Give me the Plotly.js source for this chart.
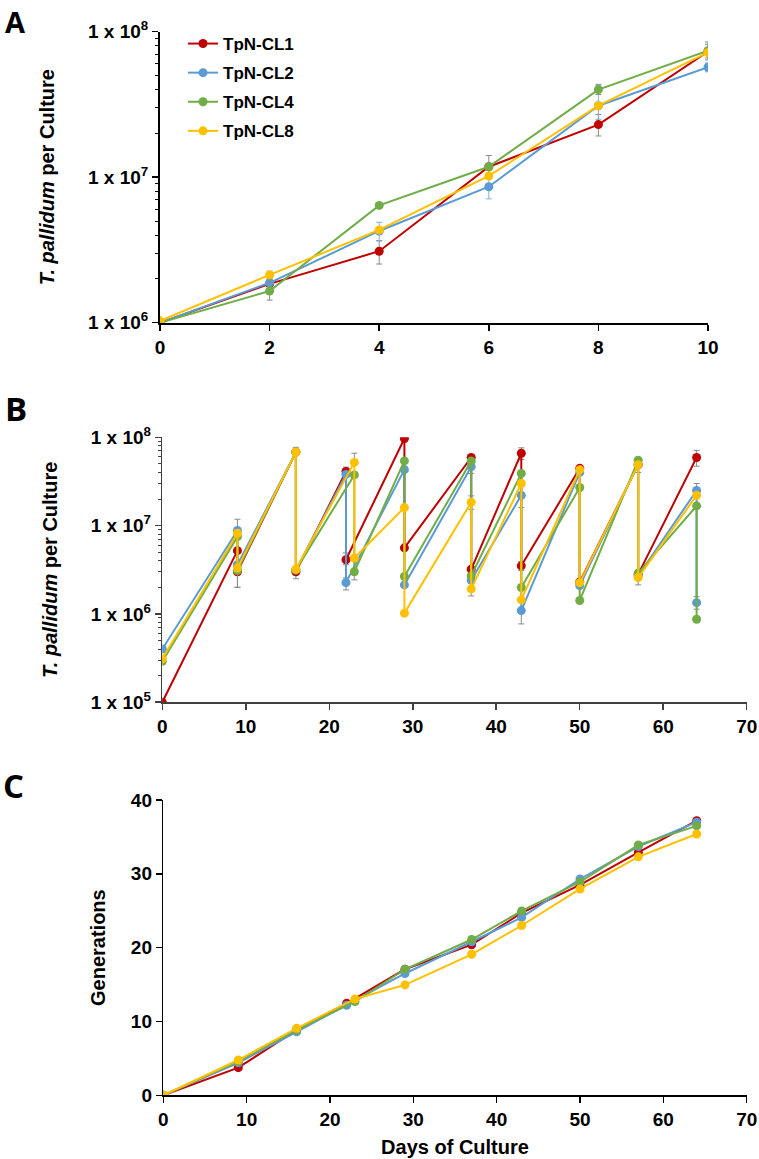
<!DOCTYPE html>
<html>
<head>
<meta charset="utf-8">
<script src="https://cdn.plot.ly/plotly-3.0.1.min.js"></script>
<style>html,body{margin:0;padding:0;background:#fff;}#chart{width:759px;height:1159px;}</style>
</head>
<body>
<div id="chart"></div>
<script>
// ---------- Data ----------
const seriesNames = ['TpN-CL1', 'TpN-CL2', 'TpN-CL4', 'TpN-CL8'];
const seriesColors = ['#C00000', '#5B9BD5', '#70AD47', '#FFC000'];

// Panel A
const daysA = [0, 2, 4, 6, 8, 10];
const cl1A = [1.0e6, 1.85e6, 3.1e6, 1.18e7, 2.3e7, 7.3e7];
const cl2A = [1.0e6, 1.88e6, 4.27e6, 8.6e6, 3.1e7, 5.7e7];
const cl4A = [1.0e6, 1.65e6, 6.4e6, 1.18e7, 4.0e7, 7.4e7];
const cl8A = [1.03e6, 2.13e6, 4.34e6, 1.02e7, 3.1e7, 7.2e7];
const cl1A_errPlus  = [NaN, NaN, 0.57e6, 0.23e7, 0.4e7, 0.9e7];
const cl1A_errMinus = [NaN, NaN, 0.57e6, 0.2e7, 0.38e7, 0.9e7];
const cl2A_errPlus  = [NaN, 0.15e6, 0.63e6, 1.5e6, 1.25e7, 0.4e7];
const cl2A_errMinus = [NaN, 0.15e6, 0.63e6, 1.5e6, 0.6e7, 0.4e7];
const cl4A_errPlus  = [NaN, 0.32e6, NaN, NaN, 0.3e7, 1.1e7];
const cl4A_errMinus = [NaN, 0.22e6, NaN, NaN, 0.3e7, 0.8e7];
const cl8A_errPlus  = [NaN, 0.13e6, NaN, NaN, NaN, NaN];
const cl8A_errMinus = [NaN, 0.13e6, NaN, NaN, NaN, NaN];

// Panel B (each passage day appears twice: harvest count, then seeded count)
const cl1B_days = [0, 9, 9, 16, 16, 22, 22, 29, 29, 37, 37, 43, 43, 50, 50, 57, 57, 64];
const cl1B = [1.0e5, 5.2e6, 3.0e6, 6.8e7, 3.0e6, 4.1e7, 4.1e6, 9.7e7, 5.6e6, 5.9e7, 3.2e6, 6.6e7, 3.5e6, 4.45e7, 2.3e6, 4.9e7, 2.8e6, 5.9e7];
const cl1B_errPlus  = [NaN, NaN, 0.4e6, NaN, NaN, 0.5e7, 0.8e6, NaN, NaN, NaN, NaN, 1.0e7, 0.4e6, NaN, NaN, NaN, NaN, 1.2e7];
const cl1B_errMinus = [NaN, NaN, 1.0e6, NaN, 0.5e6, NaN, 0.5e6, NaN, NaN, NaN, NaN, 1.0e7, 0.4e6, NaN, NaN, NaN, NaN, 1.2e7];

const cl2B_days = [0, 9, 9, 16, 16, 22, 22, 29, 29, 37, 37, 43, 43, 50, 50, 57, 57, 64, 64];
const cl2B = [4.0e5, 8.8e6, 3.6e6, 6.8e7, 3.15e6, 3.8e7, 2.26e6, 4.3e7, 2.13e6, 4.65e7, 2.4e6, 2.2e7, 1.09e6, 4.0e7, 2.1e6, 4.9e7, 2.7e6, 2.5e7, 1.34e6];
const cl2B_errPlus  = [NaN, 3.0e6, NaN, NaN, NaN, NaN, 0.3e6, NaN, NaN, NaN, NaN, NaN, NaN, NaN, NaN, NaN, NaN, 0.5e7, 0.23e6];
const cl2B_errMinus = [NaN, 1.0e6, NaN, NaN, NaN, NaN, 0.39e6, NaN, NaN, NaN, NaN, NaN, 0.32e6, NaN, NaN, NaN, NaN, 0.3e7, 0.21e6];

const cl4B_days = [0, 9, 9, 16, 16, 23, 23, 29, 29, 37, 37, 43, 43, 50, 50, 57, 57, 64, 64];
const cl4B = [2.9e5, 7.5e6, 3.1e6, 6.8e7, 3.15e6, 3.75e7, 3.0e6, 5.4e7, 2.65e6, 5.4e7, 2.7e6, 3.9e7, 1.99e6, 2.7e7, 1.42e6, 5.5e7, 2.9e6, 1.67e7, 8.7e5];
const cl4B_errPlus  = [NaN, NaN, NaN, NaN, NaN, NaN, NaN, NaN, NaN, NaN, NaN, NaN, NaN, NaN, NaN, NaN, NaN, NaN, NaN];
const cl4B_errMinus = [NaN, NaN, 1.1e6, NaN, NaN, NaN, 0.57e6, NaN, NaN, 1.5e7, NaN, NaN, NaN, NaN, NaN, NaN, NaN, NaN, NaN];

const cl8B_days = [0, 9, 9, 16, 16, 23, 23, 29, 29, 37, 37, 43, 43, 50, 50, 57, 57, 64];
const cl8B = [3.1e5, 8.2e6, 3.3e6, 6.8e7, 3.2e6, 5.2e7, 4.3e6, 1.6e7, 1.02e6, 1.84e7, 1.92e6, 3.0e7, 1.44e6, 4.3e7, 2.26e6, 4.9e7, 2.58e6, 2.2e7];
const cl8B_errPlus  = [NaN, NaN, NaN, 0.9e7, NaN, 1.4e7, NaN, NaN, NaN, 0.33e7, NaN, NaN, NaN, NaN, NaN, NaN, NaN, NaN];
const cl8B_errMinus = [NaN, NaN, NaN, NaN, NaN, NaN, NaN, NaN, NaN, 0.31e7, 0.32e6, 1.4e7, NaN, NaN, NaN, 0.9e7, 0.45e6, NaN];

// Panel C
const cl1C_days = [0, 9, 16, 22, 29, 37, 43, 50, 57, 64];
const cl2C_days = [0, 9, 16, 22, 29, 37, 43, 50, 57, 64];
const cl4C_days = [0, 9, 16, 23, 29, 37, 43, 50, 57, 64];
const cl8C_days = [0, 9, 16, 23, 29, 37, 43, 50, 57, 64];
const cl1C = [0, 3.74, 8.85, 12.46, 17.07, 20.4, 24.7, 28.5, 32.9, 37.2];
const cl2C = [0, 4.4, 8.6, 12.2, 16.5, 20.8, 24.1, 29.3, 33.7, 37.0];
const cl4C = [0, 4.6, 8.85, 12.7, 17.07, 21.1, 24.97, 28.9, 33.9, 36.5];
const cl8C = [0, 4.78, 9.08, 13.05, 14.95, 19.1, 23.0, 27.95, 32.3, 35.4];

// Tick labels
const logTickVals = [1e5, 1e6, 1e7, 1e8];
const logTickText = ['1 x 10<sup>5</sup>', '1 x 10<sup>6</sup>', '1 x 10<sup>7</sup>', '1 x 10<sup>8</sup>'];
const xTicksA = [0, 2, 4, 6, 8, 10];
const xTicksBC = [0, 10, 20, 30, 40, 50, 60, 70];
const yTicksC = [0, 10, 20, 30, 40];

// ---------- Build ----------
const FONT = 'Liberation Sans, Arial, sans-serif';
const W = 759, H = 1159;
const minorLog = [];
for (let e = 5; e < 8; e++) for (let m = 2; m <= 9; m++) minorLog.push(m * Math.pow(10, e));

const A_y = [cl1A, cl2A, cl4A, cl8A];
const A_ep = [cl1A_errPlus, cl2A_errPlus, cl4A_errPlus, cl8A_errPlus];
const A_em = [cl1A_errMinus, cl2A_errMinus, cl4A_errMinus, cl8A_errMinus];
const B_x = [cl1B_days, cl2B_days, cl4B_days, cl8B_days];
const B_y = [cl1B, cl2B, cl4B, cl8B];
const B_ep = [cl1B_errPlus, cl2B_errPlus, cl4B_errPlus, cl8B_errPlus];
const B_em = [cl1B_errMinus, cl2B_errMinus, cl4B_errMinus, cl8B_errMinus];
const C_x = [cl1C_days, cl2C_days, cl4C_days, cl8C_days];
const C_y = [cl1C, cl2C, cl4C, cl8C];

const traces = [];
for (let i = 0; i < 4; i++) {
  traces.push({
    x: daysA, y: A_y[i], xaxis: 'x', yaxis: 'y', name: seriesNames[i],
    legendgroup: 'g' + i, mode: 'lines+markers',
    line: {color: seriesColors[i], width: 2}, marker: {color: seriesColors[i], size: 9},
    error_y: {type: 'data', symmetric: false, array: A_ep[i], arrayminus: A_em[i],
      color: i === 1 ? '#7fb0dd' : '#8a8a8a', thickness: 1, width: 3}
  });
}
for (let i = 0; i < 4; i++) {
  traces.push({
    x: B_x[i], y: B_y[i], xaxis: 'x2', yaxis: 'y2', name: seriesNames[i],
    legendgroup: 'g' + i, showlegend: false, mode: 'lines+markers',
    line: {color: seriesColors[i], width: 2}, marker: {color: seriesColors[i], size: 9},
    error_y: {type: 'data', symmetric: false, array: B_ep[i], arrayminus: B_em[i],
      color: '#8a8a8a', thickness: 1, width: 3}
  });
}
for (let i = 0; i < 4; i++) {
  traces.push({
    x: C_x[i], y: C_y[i], xaxis: 'x3', yaxis: 'y3', name: seriesNames[i],
    legendgroup: 'g' + i, showlegend: false, mode: 'lines+markers',
    line: {color: seriesColors[i], width: 2}, marker: {color: seriesColors[i], size: 9}
  });
}

const tickFont = {family: FONT, size: 19, color: '#000', weight: 'bold'};
const titleFont = {family: FONT, size: 20, color: '#000', weight: 'bold'};
function axBase(extra) {
  return Object.assign({
    showline: true, linecolor: '#000', linewidth: 2, ticks: 'outside', ticklen: 6,
    tickwidth: 1.5, tickcolor: '#000', showgrid: false, zeroline: false,
    tickfont: tickFont, automargin: false, fixedrange: true
  }, extra);
}
const px = v => v / W;
const py = v => 1 - v / H;
const letterFont = {family: 'Open Sans, Liberation Sans, sans-serif', size: 33, weight: 'bold', color: '#000'};
const letterFontA = {family: 'Open Sans, Liberation Sans, sans-serif', size: 29, weight: 'bold', color: '#000'};

const layout = {
  width: W, height: H, margin: {l: 0, r: 0, t: 0, b: 0},
  paper_bgcolor: '#fff', plot_bgcolor: '#fff',
  font: {family: FONT, color: '#000'},
  showlegend: true,
  legend: {x: px(183), y: py(26), xanchor: 'left', yanchor: 'top',
    font: {family: FONT, size: 17, color: '#000', weight: 'bold'},
    bgcolor: 'rgba(0,0,0,0)', tracegroupgap: 4, itemwidth: 30},
  xaxis: axBase({domain: [px(160), px(708)], anchor: 'y', range: [0, 10],
    tickmode: 'array', tickvals: xTicksA}),
  yaxis: axBase({domain: [py(322.7), py(31.7)], anchor: 'x', type: 'log', range: [6, 8],
    tickmode: 'array', tickvals: logTickVals, ticktext: logTickText,
    minor: {tickmode: 'array', tickvals: minorLog, ticks: 'outside', ticklen: 3, tickcolor: '#000', tickwidth: 1},
    title: {text: '<i>T. pallidum</i> per Culture', font: titleFont, standoff: 28}}),
  xaxis2: axBase({domain: [px(162.3), px(746.7)], anchor: 'y2', range: [0, 70],
    tickmode: 'array', tickvals: xTicksBC, linecolor: '#404040', tickcolor: '#404040', linewidth: 1.5}),
  yaxis2: axBase({domain: [py(702.2), py(437.3)], anchor: 'x2', type: 'log', range: [5, 8],
    tickmode: 'array', tickvals: logTickVals, ticktext: logTickText,
    linecolor: '#404040', tickcolor: '#404040', linewidth: 1.5,
    minor: {tickmode: 'array', tickvals: minorLog, ticks: 'outside', ticklen: 3, tickcolor: '#404040', tickwidth: 1},
    title: {text: '<i>T. pallidum</i> per Culture', font: titleFont, standoff: 28}}),
  xaxis3: axBase({domain: [px(163.3), px(746.7)], anchor: 'y3', range: [0, 70],
    tickmode: 'array', tickvals: xTicksBC, linewidth: 1.5,
    title: {text: 'Days of Culture', font: titleFont, standoff: 11}}),
  yaxis3: axBase({domain: [py(1095.3), py(800)], anchor: 'x3', range: [0, 40],
    tickmode: 'array', tickvals: yTicksC, linewidth: 1.5,
    title: {text: 'Generations', font: titleFont, standoff: 20}}),
  annotations: [
    {text: 'A', x: px(3), y: py(0), xref: 'paper', yref: 'paper', xanchor: 'left', yanchor: 'top', showarrow: false, font: letterFontA},
    {text: 'B', x: px(3), y: py(384), xref: 'paper', yref: 'paper', xanchor: 'left', yanchor: 'top', showarrow: false, font: letterFont},
    {text: 'C', x: px(1), y: py(761), xref: 'paper', yref: 'paper', xanchor: 'left', yanchor: 'top', showarrow: false, font: letterFont}
  ]
};

Plotly.newPlot('chart', traces, layout, {displayModeBar: false, staticPlot: true});
</script>
</body>
</html>
